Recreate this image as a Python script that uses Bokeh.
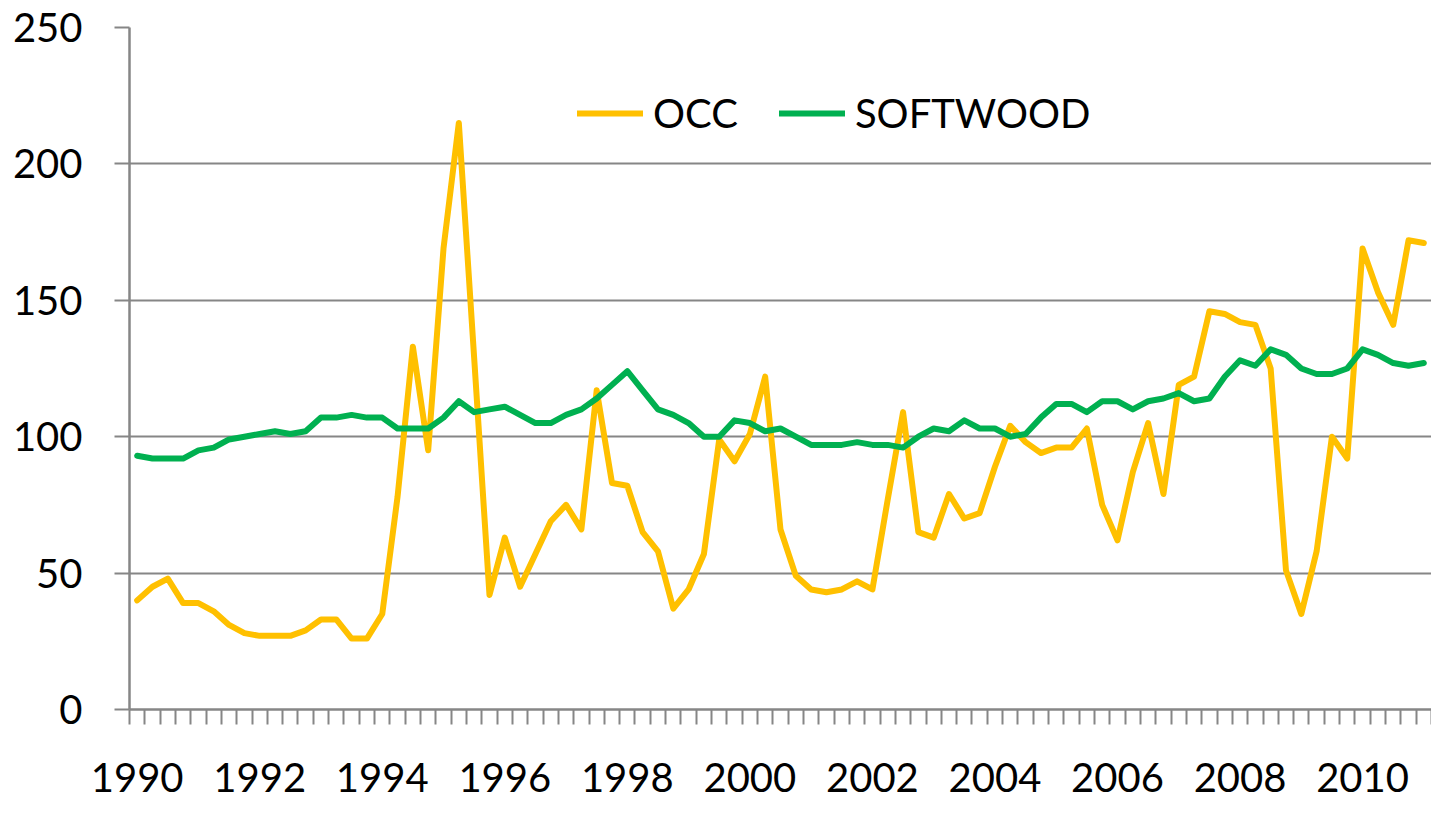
from bokeh.plotting import figure
from bokeh.models import Range1d, FixedTicker, Legend, LegendItem
from bokeh.embed import file_html
from bokeh.resources import INLINE

# Quarterly data, 1990 Q1 .. 2011 Q1 (85 quarters)
quarters = list(range(85))
year_labels = ["1990", "1992", "1994", "1996", "1998", "2000",
               "2002", "2004", "2006", "2008", "2010"]
label_positions = [0, 8, 16, 24, 32, 40, 48, 56, 64, 72, 80]

occ = [40, 45, 48, 39, 39, 36, 31, 28, 27, 27,
       27, 29, 33, 33, 26, 26, 35, 78, 133, 95,
       169, 215, 129, 42, 63, 45, 57, 69, 75, 66,
       117, 83, 82, 65, 58, 37, 44, 57, 99, 91,
       101, 122, 66, 49, 44, 43, 44, 47, 44, 77,
       109, 65, 63, 79, 70, 72, 89, 104, 98, 94,
       96, 96, 103, 75, 62, 87, 105, 79, 119, 122,
       146, 145, 142, 141, 125, 51, 35, 58, 100, 92,
       169, 153, 141, 172, 171]

softwood = [93, 92, 92, 92, 95, 96, 99, 100, 101, 102,
            101, 102, 107, 107, 108, 107, 107, 103, 103, 103,
            107, 113, 109, 110, 111, 108, 105, 105, 108, 110,
            114, 119, 124, 117, 110, 108, 105, 100, 100, 106,
            105, 102, 103, 100, 97, 97, 97, 98, 97, 97,
            96, 100, 103, 102, 106, 103, 103, 100, 101, 107,
            112, 112, 109, 113, 113, 110, 113, 114, 116, 113,
            114, 122, 128, 126, 132, 130, 125, 123, 123, 125,
            132, 130, 127, 126, 127]

FONT = "Lato"
GRAY = "#868686"

p = figure(width=1431, height=803, output_backend="svg", toolbar_location=None,
           x_range=Range1d(-0.5, 84.5), y_range=Range1d(0, 250),
           min_border_left=129, min_border_right=0, min_border_top=27,
           min_border_bottom=94)
p.outline_line_color = None
p.background_fill_color = "white"
p.border_fill_color = "white"

r_occ = p.line(quarters, occ, line_color="#FFC000", line_width=6,
               line_join="round", line_cap="round")
r_sw = p.line(quarters, softwood, line_color="#00B050", line_width=6,
              line_join="round", line_cap="round")

# x axis: category boundaries as minor ticks, labels every 2 years
xa = p.xaxis[0]
xa.ticker = FixedTicker(ticks=label_positions,
                        minor_ticks=[k - 0.5 for k in range(86)])
xa.major_label_overrides = {pos: lab for pos, lab in zip(label_positions, year_labels)}
xa.major_tick_out = 0
xa.major_tick_in = 0
xa.minor_tick_out = 15
xa.minor_tick_in = 0
xa.minor_tick_line_color = GRAY
xa.minor_tick_line_width = 2
xa.axis_line_color = GRAY
xa.axis_line_width = 2.5
xa.major_label_text_font = FONT
xa.major_label_text_font_size = "40px"
xa.major_label_text_color = "black"
xa.major_label_standoff = 38

ya = p.yaxis[0]
ya.ticker = FixedTicker(ticks=[0, 50, 100, 150, 200, 250])
ya.major_tick_out = 15
ya.major_tick_in = 0
ya.minor_tick_out = 0
ya.minor_tick_in = 0
ya.major_tick_line_color = GRAY
ya.major_tick_line_width = 2
ya.axis_line_color = GRAY
ya.axis_line_width = 2.5
ya.major_label_text_font = FONT
ya.major_label_text_font_size = "40px"
ya.major_label_text_color = "black"
ya.major_label_standoff = 32

p.xgrid.grid_line_color = None
p.ygrid.grid_line_color = GRAY
p.ygrid.grid_line_width = 2

legend = Legend(items=[LegendItem(label="OCC", renderers=[r_occ]),
                       LegendItem(label="SOFTWOOD", renderers=[r_sw])],
                orientation="horizontal", location=(448, 572),
                border_line_color=None, background_fill_alpha=0,
                padding=0, margin=0, spacing=41,
                glyph_width=66, glyph_height=40, label_standoff=10,
                label_text_font=FONT, label_text_font_size="40px",
                label_text_color="black")
p.add_layout(legend, "center")

open("out.html", "w").write(file_html(p, INLINE))
